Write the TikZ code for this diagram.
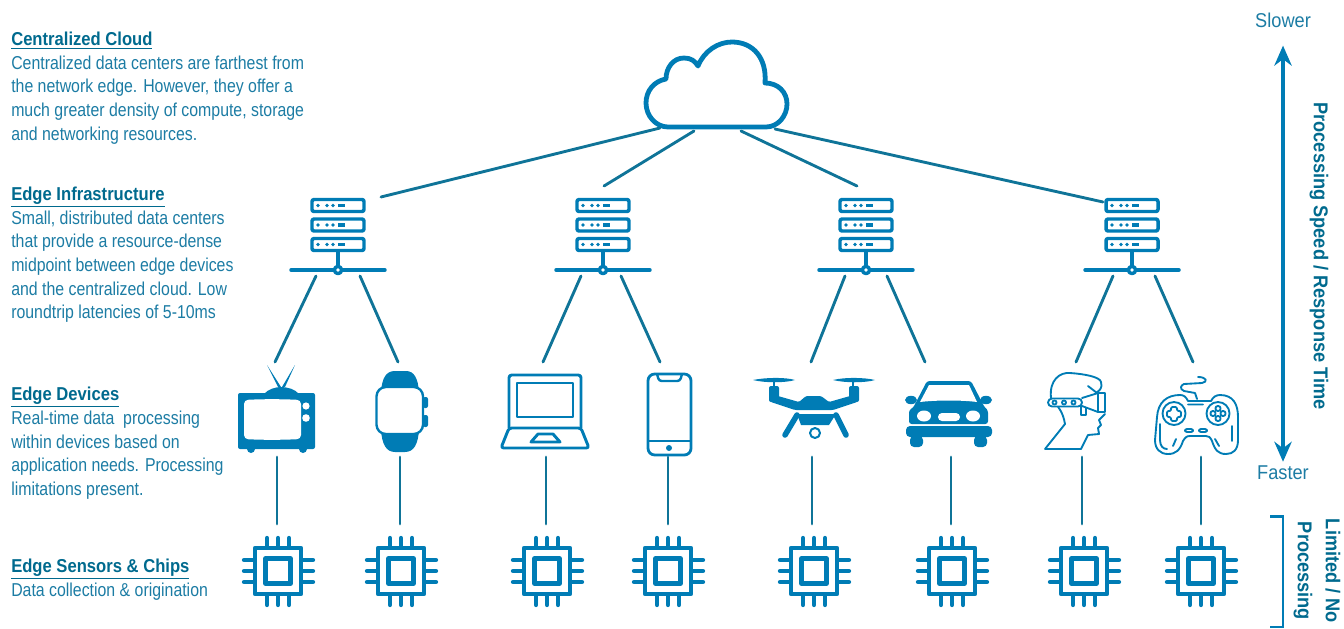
\documentclass[tikz,border=0pt]{standalone}
\usepackage{fontspec}
\setmainfont[FakeStretch=0.85]{Liberation Sans}
\newfontfamily\headfont[FakeStretch=0.89]{Liberation Sans}
\newfontfamily\sidefont[FakeStretch=0.91]{Liberation Sans}
\usetikzlibrary{arrows.meta,calc}
\definecolor{iconblue}{HTML}{007CB5}
\definecolor{linkblue}{HTML}{0F7498}
\definecolor{txtblue}{HTML}{1C7CA4}
\definecolor{headblue}{HTML}{006A8E}
\newcommand{\blockhead}[1]{\textcolor{headblue}{\headfont\bfseries\underline{#1}}}
\tikzset{
  x=0.75pt,y=-0.75pt,
  conn/.style={draw=linkblue,line width=2.15pt,line cap=round},
  blurb/.style={anchor=north west,align=left,text=txtblue,inner sep=0pt,font=\fontsize{14}{17.7}\selectfont},
  sidetxt/.style={text=txtblue,inner sep=0pt,font=\sidefont\fontsize{15}{15}\selectfont},
  sidebold/.style={text=headblue,inner sep=0pt,rotate=-90,font=\sidefont\fontsize{15}{15}\selectfont\bfseries},
  thick3/.style={draw=iconblue,line width=2.6pt,line join=round},
  thin2/.style={draw=iconblue,line width=1.4pt,line join=round,line cap=round},
  chip/.pic={
    \draw[draw=iconblue,line width=3.2pt,line join=round] (-23,-23) rectangle (23,23);
    \draw[draw=iconblue,line width=3.2pt,line join=round] (-12.5,-12.5) rectangle (12.5,12.5);
    \foreach \d in {-11,0,11}{
      \draw[draw=iconblue,line width=3.2pt,line cap=round] (\d,-25)--(\d,-33) (\d,25)--(\d,34) (-25,\d)--(-34,\d) (25,\d)--(35,\d);
    }
  },
  server/.pic={
    \foreach \yy in {-64.5,-45,-25.5}{
      \draw[thick3,rounded corners=1.5pt] (-26,\yy-6) rectangle (26,\yy+6);
      \fill[iconblue] (-20,\yy) circle (1.8) (-11,\yy) circle (1.8) (-5,\yy) circle (1.8);
      \fill[iconblue] (0,\yy-1.6) rectangle (7,\yy+1.6);
    }
    \draw[thick3] (0,-19)--(0,-4);
    \draw[thick3,line cap=round] (-47,0)--(-4,0) (4,0)--(47,0);
    \draw[thick3] (0,0) circle (3.6);
  }
}
\begin{document}
\begin{tikzpicture}
\useasboundingbox (0,0) rectangle (1344,628);
% cloud
\draw[draw=iconblue,line width=3.6pt,line join=round,fill=white]
  (668,127) .. controls (656,127) and (646,116) .. (646,103)
  .. controls (646,91) and (654,81) .. (666,79)
  .. controls (666,68) and (673,58) .. (684,58)
  .. controls (691,58) and (695,61) .. (698,66)
  .. controls (704,51) and (718,42) .. (732,42)
  .. controls (753,42) and (767,58) .. (765,83)
  .. controls (778,83) and (787,92) .. (787,104)
  .. controls (787,116) and (778,127) .. (766,127) -- cycle;
\coordinate (cloudA) at (660,128); \coordinate (cloudB) at (694,131);
\coordinate (cloudC) at (741,131); \coordinate (cloudD) at (775,129);
% servers
\foreach \n/\sx in {1/338,2/603,3/866,4/1132}{
  \pic at (\sx,270) {server};
}
\coordinate (srvA) at (381,197); \coordinate (srvB) at (604,186);
\coordinate (srvC) at (857,186); \coordinate (srvD) at (1103,202);
\draw[conn] (cloudA)--(srvA) (cloudB)--(srvB) (cloudC)--(srvC) (cloudD)--(srvD);
% server to device links
\foreach \n/\ax/\bx in {1/316/275,2/360/398,3/581/543,4/621/660,5/845/811,6/887/925,7/1113/1076,8/1155/1193}{
  \coordinate (up\n) at (\ax,276);
  \coordinate (dev\n) at (\bx,362);
  \draw[conn] (up\n)--(dev\n);
}
% chips and vertical links
\foreach \n/\cx/\lx in {1/278/277,2/401/400,3/547/546,4/668/668,5/814/812,6/952/951,7/1084/1082,8/1201/1201}{
  \pic at (\cx,571) {chip};
  \coordinate (devb\n) at (\lx,457);
  \coordinate (chipt\n) at (\lx,524);
  \draw[conn] (devb\n)--(chipt\n);
}
% TV
\fill[iconblue] (278,387) -- (267,365) -- (281,387) -- cycle;
\fill[iconblue] (282,387) -- (295,365) -- (285,387) -- cycle;
\fill[iconblue] (264,394) .. controls (268,389) and (276,387) .. (281,387) .. controls (287,387) and (295,389) .. (299,394) -- cycle;
\fill[iconblue,rounded corners=1.5pt] (238,393) rectangle (315,449);
\fill[iconblue] (251,449) circle (4) (303,449) circle (4);
\fill[white,rounded corners=3pt] (244,400) .. controls (262,399) and (282,399) .. (301,400) -- (301,439) .. controls (282,440) and (262,440) .. (244,439) -- cycle;
\fill[white] (306,406) circle (3.6) (306,418) circle (3.8);
% watch
\fill[iconblue,rounded corners=1.5pt] (423,397) rectangle (428,408) (423,415) rectangle (428,427);
\fill[iconblue] (381,392) .. controls (382,378) and (386,371) .. (395,371) -- (406,371) .. controls (414,371) and (418,378) .. (419,392) -- cycle;
\fill[iconblue] (381,430) .. controls (382,444) and (386,452) .. (395,452) -- (405,452) .. controls (414,452) and (418,444) .. (419,430) -- cycle;
\draw[thick3,line width=1.8pt,fill=white,rounded corners=7pt] (376.5,387) rectangle (423,434);
% laptop
\draw[thick3,line width=2.2pt,rounded corners=2pt] (509,428) -- (509,375) -- (581,375) -- (581,428);
\draw[thick3,line width=2.2pt] (517,383) rectangle (573,417);
\draw[thick3,line width=2.2pt,rounded corners=2pt] (509,428) -- (581,428) -- (589,448) -- (501,448) -- cycle;
\draw[thick3,line width=2.2pt] (531,442) -- (538,434) -- (553,434) -- (560,442) -- cycle;
% phone
\draw[thick3,line width=2.1pt,rounded corners=5pt] (648,374) rectangle (691,455);
\draw[thick3,line width=1.8pt,rounded corners=2pt] (657,374) -- (659,381) -- (680,381) -- (682,374);
\draw[thick3,line width=1.6pt] (648,441) -- (691,441);
\fill[iconblue] (669,448) circle (3);
% drone
\fill[iconblue] (753,380) .. controls (765,377.5) and (785,377) .. (795,380) .. controls (785,383) and (765,383) .. (753,380) -- cycle;
\fill[iconblue] (833,380) .. controls (845,377) and (865,377.5) .. (875,380) .. controls (865,383) and (845,383) .. (833,380) -- cycle;
\draw[thick3,line width=1.4pt] (774,381)--(774,388) (853,381)--(853,388);
\fill[iconblue,rounded corners=1.5pt] (769,386) rectangle (779,402);
\fill[iconblue,rounded corners=1.5pt] (849,386) rectangle (859,402);
\fill[iconblue,rounded corners=1pt] (771,397) -- (778,396) -- (799,402) -- (806,396) -- (821,396) -- (829,402) -- (850,396) -- (857,397) -- (857,402) -- (833,410) -- (795,410) -- (771,402) -- cycle;
\fill[iconblue] (797,414) -- (836,414) -- (829,425) -- (801,425) -- cycle;
\draw[draw=iconblue,line width=4.2pt,line cap=round] (797,415)--(785,435) (836,415)--(846,435);
\draw[thick3,line width=1.5pt,fill=white] (815,433) circle (5);
% car
\fill[iconblue] (911,400) ellipse (6 and 4.2) (986,400) ellipse (6 and 4.2);
\fill[iconblue,rounded corners=2pt] (927,381) -- (971,381) -- (985,408) -- (988,410) -- (988,424) -- (909,424) -- (909,410) -- (913,408) -- cycle;
\fill[white] (929,385) -- (969,385) -- (977,402) .. controls (962,400) and (936,400) .. (920,402) -- cycle;
\fill[white] (924,416) ellipse (7 and 5.5) (973,416) ellipse (7 and 5.5);
\fill[white,rounded corners=3pt] (938,413) rectangle (960,421);
\fill[iconblue,rounded corners=3pt] (906,426) rectangle (992,437);
\fill[iconblue,rounded corners=3pt] (910,436) rectangle (923,447) (974,436) rectangle (987,447);
% VR head
\draw[thin2] (1045,449) -- (1081,449) (1045,449) -- (1065,424) .. controls (1063,412) and (1058,407) .. (1058,407);
\draw[thin2] (1051,398) .. controls (1049,380) and (1060,372) .. (1070,373) .. controls (1085,374) and (1100,377) .. (1101,382) .. controls (1103,388) and (1099,391) .. (1097,392);
\draw[thin2] (1088,386) -- (1097,393);
\draw[thin2,rounded corners=3pt] (1048,398.5) rectangle (1082,406.5);
\draw[thin2] (1054.5,402.5) circle (2) (1064,402.5) circle (2) (1073.5,402.5) circle (2);
\draw[thin2] (1082,398) -- (1098,393) -- (1105,393) -- (1105,412) -- (1098,412) -- (1082,406);
\draw[thin2] (1098,393) -- (1098,412);
\draw[thin2] (1081,406) -- (1081,415) -- (1086,415) -- (1086,408);
\draw[thin2] (1105,414) -- (1099,420) -- (1101,425) -- (1098,428) -- (1099,434) -- (1088,435) -- (1081,449);
% gamepad
\draw[thin2] (1197,399) -- (1195,393) -- (1184,391) .. controls (1179,389) and (1181,385) .. (1184,384) -- (1202,383) .. controls (1208,382) and (1207,377) .. (1198,377);
\draw[thin2] (1157,417) .. controls (1158,402) and (1167,395) .. (1180,395) .. controls (1184,395) and (1186,397) .. (1188,401) -- (1211,401) .. controls (1213,397) and (1216,395) .. (1220,395) .. controls (1233,395) and (1238,404) .. (1238,417) -- (1238,440) .. controls (1238,450) and (1233,454) .. (1226,454) .. controls (1218,454) and (1215,450) .. (1212,441) .. controls (1210,437) and (1209,436) .. (1206,436) -- (1190,436) .. controls (1186,436) and (1185,438) .. (1183,441) .. controls (1180,450) and (1176,454) .. (1168,454) .. controls (1160,454) and (1155,449) .. (1155,440) -- cycle;
\draw[thin2] (1174,413.5) circle (11.5) (1218,413.5) circle (11.5);
\draw[thin2,rounded corners=1pt] (1171,407) -- (1177,407) -- (1177,411) -- (1181,411) -- (1181,417) -- (1177,417) -- (1177,421) -- (1171,421) -- (1171,417) -- (1167,417) -- (1167,411) -- (1171,411) -- cycle;
\draw[thin2] (1218,408.5) circle (2.6) (1218,418.5) circle (2.6) (1213,413.5) circle (2.6) (1223,413.5) circle (2.6);
\draw[thin2,rounded corners=1.5pt] (1185,429) rectangle (1193,432) (1199,429) rectangle (1207,432);
\draw[thin2] (1188,404.5) -- (1203,404.5) (1160,424) -- (1160,440) .. controls (1160,446) and (1163,449) .. (1167,449) (1176,439) -- (1173,446) (1215,439) -- (1219,446) (1232,426) -- (1232,441);
% left texts
\node[blurb] (tCloud) at (11,32) {\blockhead{Centralized Cloud}\\Centralized data centers are farthest from\\the network edge. However, they offer a\\much greater density of compute, storage\\and networking resources.};
\node[blurb] (tInfra) at (11,187) {\blockhead{Edge Infrastructure}\\Small, distributed data centers\\that provide a resource-dense\\midpoint between edge devices\\and the centralized cloud. Low\\roundtrip latencies of 5-10ms};
\node[blurb] (tDev) at (11,387) {\blockhead{Edge Devices}\\Real-time data\ \ processing\\within devices based on\\application needs. Processing\\limitations present.};
\node[blurb] (tChip) at (11,559) {\blockhead{Edge Sensors \& Chips}\\Data collection \& origination};
% right side
\node[sidetxt] (slow) at (1283,20) {Slower};
\node[sidetxt] (fast) at (1283,473) {Faster};
\draw[draw=iconblue,line width=3pt,{Stealth[length=15pt,width=13pt]}-{Stealth[length=15pt,width=13pt]}] ($(slow.south)+(0,18)$) -- ($(fast.north)+(0,-4)$);
\node[sidebold] (speed) at (1319,256) {Processing Speed / Response Time};
\draw[draw=iconblue,line width=1.6pt] (1270,516.5) -- (1283,516.5) -- (1283,627) -- (1270,627);
\node[sidebold] (lim) at (1333,571) {Limited / No};
\node[sidebold] (proc) at (1303,571) {Processing};
\end{tikzpicture}
\end{document}
